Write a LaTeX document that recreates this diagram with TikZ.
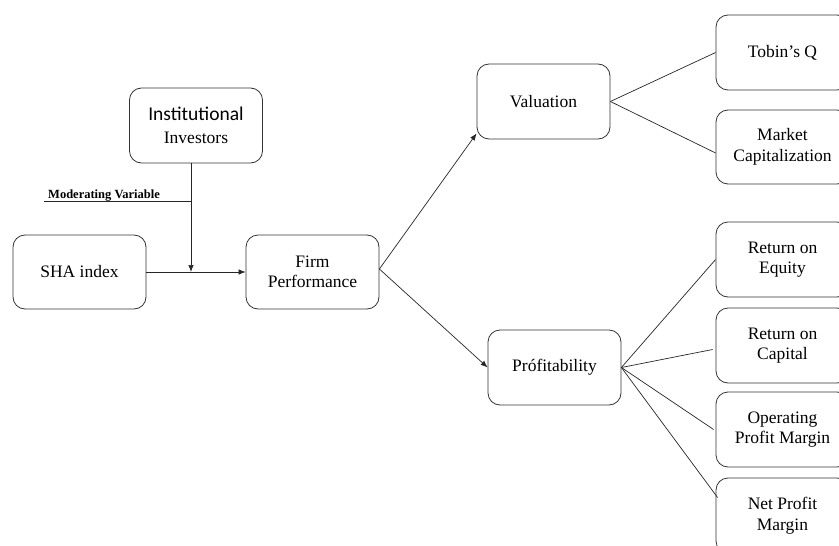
\documentclass[tikz,border=0pt]{standalone}
\usepackage{fontspec}
\setmainfont{Liberation Serif}
\newfontfamily\calib{Carlito}
\usetikzlibrary{arrows.meta,calc}
\begin{document}
\begin{tikzpicture}[x=1pt,y=-1pt,
  box/.style={draw=black!80,line width=0.8pt,rounded corners=12pt,minimum width=133pt,minimum height=74pt,align=center,font=\fontsize{17.5}{20.5}\selectfont,inner sep=2pt},
  conn/.style={draw=black!85,line width=0.7pt},
  arr/.style={conn,-{Latex[length=7pt,width=5.5pt]}}]
\useasboundingbox (0,0) rectangle (839,546);
\begin{scope}
\clip (0,0) rectangle (839,546);
\node[box,minimum height=75pt] (inst) at (196,125.5) {{\calib\fontsize{19.5}{22}\selectfont Institutional}\\[3pt]Investors};
\node[box] (sha) at (79.5,272) {SHA index};
\node[box] (firm) at (312.5,272) {Firm\\Performance};
\node[box,minimum height=75pt] (val) at (543.5,101.5) {Valuation};
\node[box,minimum height=75pt] (prof) at (554.5,367.5) {Prófitability};
\node[box,minimum height=75pt] (tobin) at (782.5,52.5) {Tobin's Q};
\node[box] (mcap) at (782.5,147) {Market\\Capitalization};
\node[box,minimum height=75pt] (roe) at (782.5,259.5) {Return on\\Equity};
\node[box,minimum height=75pt] (roc) at (782.5,345.5) {Return on\\Capital};
\node[box,minimum height=75pt] (opm) at (782.5,429.5) {Operating\\Profit Margin};
\node[box,minimum height=75pt] (npm) at (782.5,515.5) {Net Profit\\Margin};
\coordinate (m) at (191,272);
\coordinate (ml) at (44,201);
\node[anchor=base west,inner sep=0pt,font=\bfseries\fontsize{12.5}{14}\selectfont] (modtxt) at (48,198.5) {Moderating Variable};
\draw[conn] (ml) -- (ml -| m);
\draw[arr] (inst.south -| m) -- (m);
\draw[arr] (sha.east) -- (firm.west);
\draw[arr] ([yshift=3pt]firm.east) -- ([yshift=6pt]val.south west);
\draw[arr] ([yshift=3pt]firm.east) -- (prof.west);
\draw[conn] (val.east) -- (tobin.west);
\draw[conn] (val.east) -- ([yshift=-6pt]mcap.west);
\draw[conn] (prof.east) -- (roe.west);
\draw[conn] (prof.east) -- ([yshift=-4pt,xshift=-3pt]roc.west);
\draw[conn] (prof.east) -- ([xshift=-2pt]opm.west);
\draw[conn] (prof.east) -- ([yshift=18pt,xshift=2pt]npm.west);
\end{scope}
\end{tikzpicture}
\end{document}
